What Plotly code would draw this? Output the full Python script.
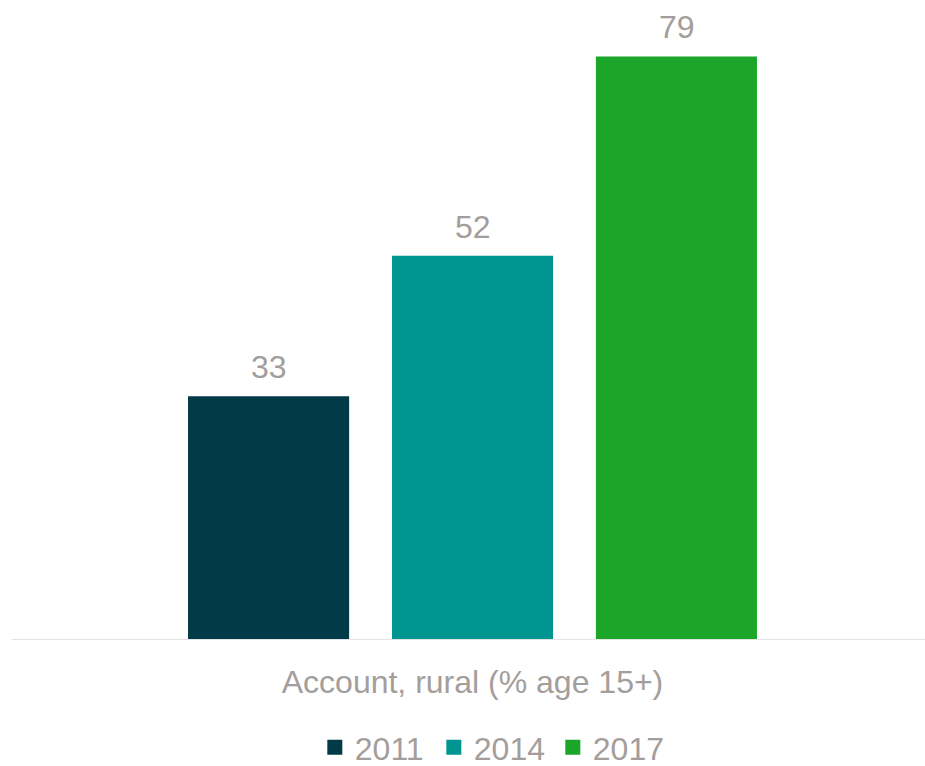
import plotly.graph_objects as go

category = ["Account, rural (% age 15+)"]
years = ["2011", "2014", "2017"]
values = [33, 52, 79]
colors = ["#023a48", "#009590", "#1ba62a"]

FONT = "Arial, 'Liberation Sans', sans-serif"
GRAY = "#a39e9c"
SIZE = 32
SLOT_PX = 204  # horizontal distance between neighbouring bars

fig = go.Figure()
for yr, v, c in zip(years, values, colors):
    fig.add_trace(go.Bar(
        x=category, y=[v], name=yr, marker_color=c, marker_line_width=0,
        showlegend=False,
    ))
    # legend entry with a larger square swatch
    fig.add_trace(go.Scatter(
        x=[None], y=[None], mode="markers", name=yr,
        marker=dict(symbol="square", size=15, color=c),
    ))

# value labels above each bar
for i, v in enumerate(values):
    fig.add_annotation(
        x=category[0], y=v, text=str(v), showarrow=False,
        xshift=(i - 1) * SLOT_PX, yanchor="bottom", yshift=9,
        font=dict(size=SIZE, color=GRAY, family=FONT),
    )

fig.update_layout(
    width=925, height=766,
    margin=dict(l=20, r=0, t=49, b=126, autoexpand=False),
    paper_bgcolor="white", plot_bgcolor="white",
    barmode="group", bargap=0.324, bargroupgap=0.21,
    font=dict(family=FONT, size=SIZE, color=GRAY),
    showlegend=True,
    legend=dict(orientation="h", x=0.523, xanchor="center", y=-0.182, yanchor="middle",
                font=dict(size=SIZE, color=GRAY), itemwidth=30, tracegroupgap=0,
                entrywidth=74, entrywidthmode="pixels"),
)
fig.update_xaxes(showline=False, showgrid=False, ticks="", ticklabelstandoff=20,
                 tickfont=dict(size=SIZE, color=GRAY))
fig.update_yaxes(range=[0, 80], visible=False)
fig.add_shape(type="line", xref="paper", yref="y", x0=-8/905, x1=1, y0=0, y1=0,
              line=dict(color="#e3e3e3", width=2), layer="above")

fig.write_html("out.html")
